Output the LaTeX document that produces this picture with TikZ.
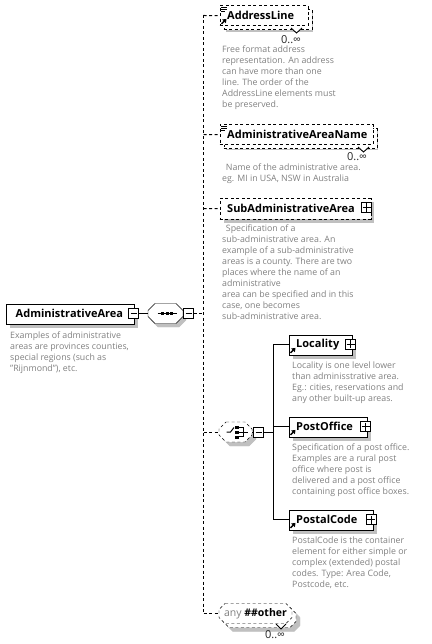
\documentclass[tikz,border=0pt]{standalone}
\usepackage{fontspec}
\setmainfont{Open Sans}
\usetikzlibrary{arrows.meta}
\definecolor{descgrey}{RGB}{128,128,128}
\definecolor{shadowgrey}{RGB}{192,192,192}
\tikzset{
  x=1pt,y=-1pt,
  line width=1pt,
  elbox/.style={draw,fill=white,anchor=north west,inner ysep=0pt,inner xsep=7.5pt,minimum width=#1pt,
    text width=#1pt-15pt,minimum height=20pt,font=\fontsize{11}{11}\selectfont\bfseries,align=left},
  backbox/.style={draw,dash pattern=on 3pt off 2.5pt,fill=white,anchor=north west,minimum width=#1pt,minimum height=20pt,inner sep=0pt},
  optional/.style={dash pattern=on 3pt off 2.5pt},
  togglebox/.style={draw,fill=white,minimum size=10pt,inner sep=0pt},
  minusbox/.style={togglebox,path picture={\draw[line width=.9pt]([xshift=2pt]path picture bounding box.west)--([xshift=-2pt]path picture bounding box.east);}},
  plusbox/.style={togglebox,path picture={\draw[line width=.9pt]([xshift=1pt]path picture bounding box.west)--([xshift=-1pt]path picture bounding box.east)
     ([yshift=-1pt]path picture bounding box.north)--([yshift=1pt]path picture bounding box.south);}},
  desc/.style={anchor=north west,inner sep=0pt,align=left,text=descgrey,font=\fontsize{8.8}{11}\selectfont},
  occurs/.style={inner sep=0pt,text=black!85,font=\fontsize{11}{11}\selectfont},
  conn/.style={line width=1pt},
  dconn/.style={line width=1pt,dash pattern=on 3pt off 2.5pt},
  notch/.style={draw=black,fill=white,line width=.9pt},
}
\newcommand{\refarrow}[1]{\draw[line width=1.5pt,-{Stealth[length=3.5pt,width=5pt,inset=0pt]}]([xshift=2pt,yshift=2pt]#1.south west)--([xshift=7pt,yshift=7pt]#1.south west);}
\newcommand{\listicon}[1]{\draw[line width=.8pt]([xshift=1.5pt,yshift=-1.5pt]#1.north west)--+(6pt,0pt)([xshift=1.5pt,yshift=-3.5pt]#1.north west)--+(6pt,0pt)([xshift=1.5pt,yshift=-5.5pt]#1.north west)--+(4pt,0pt);}
% octagon outline: centre x, centre y, half width, half height, chamfer, options
\newcommand{\octa}[6]{\draw[#6] (#1-#3+#5,#2-#4)--(#1+#3-#5,#2-#4)--(#1+#3,#2-#4+#5)--(#1+#3,#2+#4-#5)--(#1+#3-#5,#2+#4)--(#1-#3+#5,#2+#4)--(#1-#3,#2+#4-#5)--(#1-#3,#2-#4+#5)--cycle;}
\begin{document}
\begin{tikzpicture}
\useasboundingbox (0,0) rectangle (431,644);
% trunk
\coordinate (trunktop) at (203.5,15);
\coordinate (trunkbot) at (203.5,613);
\draw[dconn] (trunktop)--(trunkbot);
% root
\fill[shadowgrey] (9.5,307.5) rectangle (137.5,327.5);
\node[elbox=128,inner xsep=10pt,text width=108pt] (root) at (5.5,303.5) {AdministrativeArea};
\node[minusbox] (rootm) at (133.5,313.5) {};
\octa{165.5+3}{313.5+3.5}{17.5}{10}{7}{shadowgrey,fill=shadowgrey}
\octa{165.5}{313.5}{17.5}{10}{7}{fill=white}
\node[inner sep=0pt,minimum width=35pt,minimum height=20pt] (seq) at (165.5,313.5) {};
\node[minusbox] (seqm) at (188.5,313.5) {};
\draw[conn] (rootm)--(seq);
\draw[conn] (seq)--(seqm);
\draw[conn] ([xshift=-8pt]seq.center)--([xshift=11pt]seq.center);
\foreach \d in {-4.5,0,4.5}{\fill ([xshift=\d pt+1.5pt]seq.center) ++(-1.5,-1.5) rectangle +(3,3);}
\coordinate (seqj) at (203.5,313.5);
\draw[dconn] (seqm)--(seqj);
\node[desc] (rootd) at (10,331.5) {Examples of administrative\\areas are provinces counties,\\special regions (such as\\"Rijnmond"), etc.};
% AddressLine
\fill[shadowgrey] (225.5,12) rectangle (313,32);
\node[backbox=88] (addrb) at (223.5,9.5) {};
\node[elbox=88,optional] (addr) at (219.5,5.5) {AddressLine};
\coordinate (addrj) at (203.5,15.5);
\draw[dconn] (addrj)--(addr);
\listicon{addr}\refarrow{addr}
\path[notch] (291,28)--(296.5,33)--(302,28);
\node[occurs] (addro) at (291,39.5) {0..∞};
\node[desc] (addrd) at (222,46) {Free format address\\representation. An address\\can have more than one\\line. The order of the\\AddressLine elements must\\be preserved.};
% AdministrativeAreaName
\fill[shadowgrey] (225.5,131) rectangle (378,150);
\node[backbox=153] (nameb) at (223.5,128.5) {};
\node[elbox=153,optional] (name) at (219.5,124.5) {AdministrativeAreaName};
\coordinate (namej) at (203.5,134.5);
\draw[dconn] (namej)--(name);
\listicon{name}
\path[notch] (358,147)--(363.5,152)--(369,147);
\node[occurs] (nameo) at (357,157) {0..∞};
\node[desc] (named) at (222,164) {\ \,Name of the administrative area.\\eg. MI in USA, NSW in Australia};
% SubAdministrativeArea
\fill[shadowgrey] (223.5,202.5) rectangle (374,223);
\node[elbox=151,optional] (sub) at (219.5,198.5) {SubAdministrativeArea};
\node[plusbox] (subp) at (366.5,207.5) {};
\coordinate (subj) at (203.5,208.5);
\draw[dconn] (subj)--(sub);
\node[desc] (subd) at (222,225) {\ \,Specification of a\\sub-administrative area. An\\example of a sub-administrative\\areas is a county. There are two\\places where the name of an\\administrative\\area can be specified and in this\\case, one becomes\\sub-administrative area.};
% choice
\octa{235.5+4}{432+4}{16.5}{10}{7}{shadowgrey,fill=shadowgrey}
\octa{235.5}{432}{16.5}{10}{7}{optional,fill=white}
\node[inner sep=0pt,minimum width=33pt,minimum height=20pt] (choice) at (235.5,432) {};
\node[minusbox] (choicem) at (258.5,432) {};
\coordinate (choicej) at (203.5,432);
\draw[dconn] (choicej)--(choice);
\draw[conn] (choice)--(choicem);
\draw[conn] (226.5,432)--(230.5,432)--(234,427.5);
\foreach \d in {-5,0,5}{\fill ([xshift=1.5pt,yshift=\d pt]choice.center) ++(-2,-1.5) rectangle +(4,3);}
\draw[line width=.9pt] (239,427.5)-|(243,436.5)--(239,436.5) (239,432)--(248,432);
\coordinate (choicebus) at (273.5,432);
\draw[conn] (choicem)--(choicebus);
% Locality
\fill[shadowgrey] (292.5,338.5) rectangle (355.5,358.5);
\node[elbox=63] (loc) at (288.5,334.5) {Locality};
\node[plusbox] (locp) at (350.5,344) {};
\refarrow{loc}
\node[desc] (locd) at (292,362) {Locality is one level lower\\than adminisstrative area.\\Eg.: cities, reservations and\\any other built-up areas.};
% PostOffice
\fill[shadowgrey] (292.5,420.5) rectangle (370.5,441);
\node[elbox=78] (post) at (288.5,416.5) {PostOffice};
\node[plusbox] (postp) at (365.5,426.5) {};
\refarrow{post}
\node[desc] (postd) at (292,444) {Specification of a post office.\\Examples are a rural post\\office where post is\\delivered and a post office\\containing post office boxes.};
% PostalCode
\fill[shadowgrey] (292.5,513.5) rectangle (376.5,533.5);
\node[elbox=84] (code) at (288.5,509.5) {PostalCode};
\node[plusbox] (codep) at (371,519.5) {};
\refarrow{code}
\node[desc] (coded) at (292,537) {PostalCode is the container\\element for either simple or\\complex (extended) postal\\codes. Type: Area Code,\\Postcode, etc.};
% bus
\draw[conn] (loc.west)-|(choicebus)|-(code.west);
\draw[conn] (post.west)--(post.west-|choicebus);
% any
\octa{259.5+4}{617.5+4}{36.5}{10}{6}{shadowgrey,fill=shadowgrey}
\octa{259.5}{617.5}{36.5}{10}{6}{optional,fill=white}
\octa{255.5}{613.5}{36.5}{10}{6}{optional,fill=white}
\node[inner sep=0pt,minimum width=73pt,minimum height=20pt,font=\fontsize{10.5}{11}\selectfont] (any) at (255.5,613.5) {\color{descgrey}any \color{black}\bfseries\#\#other};
\coordinate (anyj) at (203.5,613.5);
\draw[dconn] (anyj)--(any);
\path[notch] (276,624)--(281,629)--(286,624);
\node[occurs] (anyo) at (275,635) {0..∞};
\end{tikzpicture}
\end{document}
